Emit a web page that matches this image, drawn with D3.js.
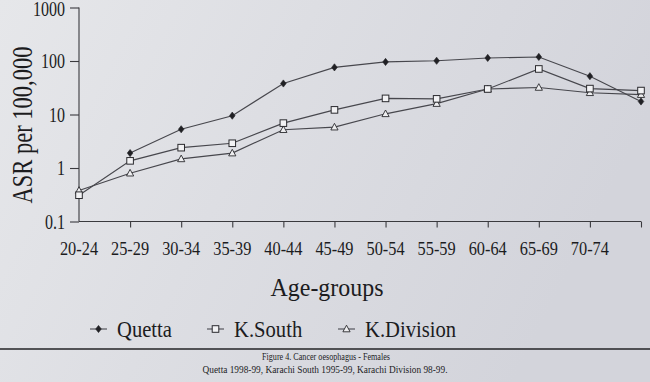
<!DOCTYPE html>
<html>
<head>
<meta charset="utf-8">
<script src="https://cdn.jsdelivr.net/npm/d3@7"></script>
<style>
  html, body { margin: 0; padding: 0; background: #dcdde2; }
  svg { display: block; }
  text { font-family: "Liberation Serif", "DejaVu Serif", serif; fill: #1c1c1e; }
</style>
</head>
<body>
<svg id="chart" width="650" height="382"></svg>
<script>
// ---- data ----
const categories = ["20-24","25-29","30-34","35-39","40-44","45-49","50-54","55-59","60-64","65-69","70-74","75+"];
const tickLabels = ["20-24","25-29","30-34","35-39","40-44","45-49","50-54","55-59","60-64","65-69","70-74",""];
const quetta    = [null, 1.9, 5.3, 9.5, 38, 76, 96, 101, 114, 119, 52, 17.5];
const kSouth    = [0.31, 1.36, 2.4, 2.9, 6.9, 12.2, 20, 19.6, 30, 71, 30.5, 28];
const kDivision = [0.38, 0.8, 1.48, 1.9, 5.2, 5.8, 10.3, 16, 30, 32, 25.5, 23.5];
const yTicks = [0.1, 1, 10, 100, 1000];
const yTickLabels = ["0.1", "1", "10", "100", "1000"];
const seriesNames = ["Quetta", "K.South", "K.Division"];
const captionLines = ["Figure 4. Cancer oesophagus - Females",
                      "Quetta 1998-99, Karachi South 1995-99, Karachi Division 98-99."];
const xTitle = "Age-groups";
const yTitle = "ASR per 100,000";

const svg = d3.select("#chart");
const W = 650, H = 382;

// paper background
const defs = svg.append("defs");
const grad = defs.append("linearGradient").attr("id", "paper")
  .attr("x1", "0").attr("y1", "0").attr("x2", "1").attr("y2", "0.3");
grad.append("stop").attr("offset", "0").attr("stop-color", "#e6e7ea");
grad.append("stop").attr("offset", "0.45").attr("stop-color", "#dddee3");
grad.append("stop").attr("offset", "1").attr("stop-color", "#d3d4db");
svg.append("rect").attr("width", W).attr("height", H).attr("fill", "url(#paper)");

const x = d3.scalePoint().domain(categories).range([79, 641]);
const y = d3.scaleLog().domain([0.1, 1000]).range([221.5, 7.5]);

const ink = "#3a3a3e";

// condensed text helper
function ctext(g, str, tx, ty, size, sx, anchor) {
  return g.append("text")
    .attr("transform", `translate(${tx},${ty}) scale(${sx},1)`)
    .attr("font-size", size)
    .attr("text-anchor", anchor || "middle")
    .text(str);
}

// axes
const xAxis = d3.axisBottom(x).tickSize(6).tickFormat(() => "");
const gx = svg.append("g").attr("transform", `translate(0,${y(0.1)})`).call(xAxis);
gx.select(".domain").attr("stroke", ink).attr("stroke-width", 1.1)
  .attr("d", `M${x(categories[0])},0H${x(categories[categories.length-1])}`);
gx.selectAll(".tick line").attr("stroke", ink).attr("stroke-width", 1.1);
gx.selectAll(".tick").each(function(d, i) {
  if (i === 0) d3.select(this).select("line").remove();
});

const yAxis = d3.axisLeft(y).tickValues(yTicks).tickSize(9).tickFormat(() => "");
const gy = svg.append("g").attr("transform", `translate(${x(categories[0])},0)`).call(yAxis);
gy.select(".domain").attr("stroke", ink).attr("stroke-width", 1.1).attr("d", `M0,${y(1000)}V${y(0.1)}`);
gy.selectAll(".tick line").attr("stroke", ink).attr("stroke-width", 1.1);

// tick labels
const lab = svg.append("g");
yTicks.forEach((v, i) => {
  ctext(lab, yTickLabels[i], 65, Math.max(y(v) + 7, 16), 20, 0.8, "end");
});
categories.forEach((c, i) => {
  if (tickLabels[i]) ctext(lab, tickLabels[i], x(c), 255, 19, 0.86, "middle");
});

// titles
ctext(svg, xTitle, 327, 296, 26, 0.92, "middle");
svg.append("text")
  .attr("transform", `translate(32,125) rotate(-90) scale(0.75,1)`)
  .attr("font-size", 30).attr("text-anchor", "middle").text(yTitle);

// series
const series = [
  { name: seriesNames[0], values: quetta, shape: "diamond" },
  { name: seriesNames[1], values: kSouth, shape: "square" },
  { name: seriesNames[2], values: kDivision, shape: "triangle" }
];
const line = d3.line()
  .defined(d => d.v != null)
  .x(d => x(d.c)).y(d => y(d.v));

function drawMarker(g, shape, cx, cy) {
  if (shape === "diamond") {
    g.append("path").attr("d", `M${cx},${cy-3.6}L${cx+2.8},${cy}L${cx},${cy+3.6}L${cx-2.8},${cy}Z`)
      .attr("fill", "#202024").attr("stroke", "#202024").attr("stroke-width", 0.6);
  } else if (shape === "square") {
    g.append("rect").attr("x", cx-3.3).attr("y", cy-3.3).attr("width", 6.6).attr("height", 6.6)
      .attr("fill", "#f2f2f4").attr("stroke", "#2a2a2e").attr("stroke-width", 1);
  } else {
    g.append("path").attr("d", `M${cx},${cy-3.8}L${cx+3.6},${cy+2.8}L${cx-3.6},${cy+2.8}Z`)
      .attr("fill", "#eeeef0").attr("stroke", "#2a2a2e").attr("stroke-width", 0.9);
  }
}

const plot = svg.append("g");
series.forEach(s => {
  const pts = categories.map((c, i) => ({ c, v: s.values[i] }));
  plot.append("path").datum(pts).attr("d", line)
    .attr("fill", "none").attr("stroke", "#47474d").attr("stroke-width", 1.15);
});
series.slice().reverse().forEach(s => {
  categories.forEach((c, i) => {
    if (s.values[i] != null) drawMarker(plot, s.shape, x(c), y(s.values[i]));
  });
});

// legend
const legendX = [90, 207, 338];
const legY = 329;
const leg = svg.append("g");
series.forEach((s, i) => {
  const lx = legendX[i];
  leg.append("line").attr("x1", lx).attr("x2", lx + 17).attr("y1", legY).attr("y2", legY)
    .attr("stroke", "#4a4a50").attr("stroke-width", 1.1);
  drawMarker(leg, s.shape, lx + 8.5, legY);
  ctext(leg, s.name, lx + 27, legY + 8, 24, 0.86, "start");
});

// rule and caption
svg.append("line").attr("x1", 0).attr("x2", W).attr("y1", 349).attr("y2", 349)
  .attr("stroke", "#232326").attr("stroke-width", 1.6);
svg.append("text").attr("x", 326).attr("y", 360).attr("font-size", 10.5)
  .attr("text-anchor", "middle").attr("textLength", 128).attr("lengthAdjust", "spacingAndGlyphs")
  .text(captionLines[0]);
svg.append("text").attr("x", 325).attr("y", 373).attr("font-size", 10.5)
  .attr("text-anchor", "middle").attr("textLength", 245).attr("lengthAdjust", "spacingAndGlyphs")
  .text(captionLines[1]);
</script>
</body>
</html>
